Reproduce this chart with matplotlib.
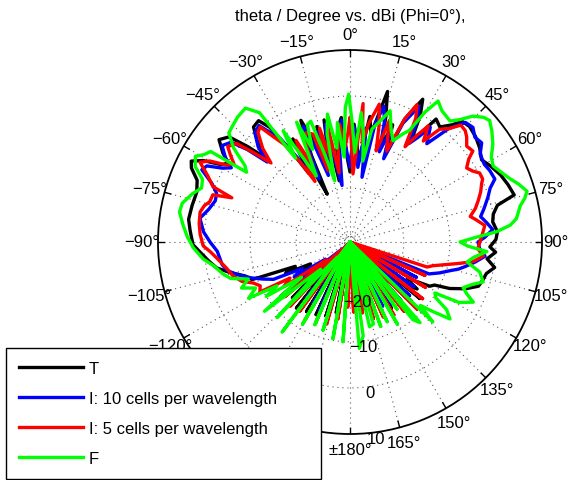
import numpy as np
import matplotlib
matplotlib.use('Agg')
import matplotlib.pyplot as plt
from matplotlib.lines import Line2D

plt.rcParams['font.family'] = ['Liberation Sans', 'DejaVu Sans']

# ---------------- data (theta in degrees, gain in dBi) ----------------
R_MIN = -31.7
R_MAX = 10.0
ring_values = [-30, -20, -10, 0]
ring_label_values = [-20, -10, 0, 10]
ring_labels = ['\u221220', '\u221210', '0', '10']
angle_ticks = list(range(-165, 181, 15))

series_names = ['T', 'I: 10 cells per wavelength', 'I: 5 cells per wavelength', 'F']
series_colors = ['#000000', '#0000ff', '#ff0000', '#00ff00']

theta_T = [-180, -176, -173, -169, -166, -162, -159, -155, -152, -148, -145, -141, -138, -134, -131, -128,
           -125, -121, -119, -116, -114, -111, -108, -104, -101, -98, -95, -91, -86, -82, -77, -72,
           -68, -65, -63, -61, -59, -57, -55, -52, -49, -47, -45, -43, -40, -37, -35, -33,
           -31, -29, -27, -25.5, -24, -22, -20, -18, -16, -14, -12, -10, -8, -6, -4, -2,
           0, 2, 4, 6, 9, 11, 14, 16, 18, 20, 22, 24, 27, 29, 31, 33,
           35, 38, 41, 43, 46, 50, 54, 58, 62, 66, 70, 74, 76, 79, 82, 86,
           89, 92, 94, 97, 100, 103, 106, 109, 112, 115, 117, 119, 121, 123, 125, 127,
           129, 131, 134, 137, 141, 144, 148, 151, 155, 158, 162, 165, 169, 172, 176, 180]
gain_T = [-31.7, -18.2, -31.7, -16.1, -31.7, -14.8, -31.7, -14.3, -31.7, -13.9, -31.7, -13.2, -27.4, -14.3, -25.2, -12.6,
          -23.0, -18.7, -21.9, -16.1, -18.7, -8.9, -7.8, -4.6, -2.2, -0.9, 0.4, 2.4, 3.1, 3.7, 3.5, 3.3,
          4.1, 6.3, 7.0, 4.8, 0.9, -0.2, 2.0, 4.4, 3.1, -1.3, -6.1, -2.4, 0.9, 1.3, -1.3, -7.8,
          -14.3, -6.1, -15.4, -20.2, -11.1, -3.2, -7.8, -14.3, -5.6, -12.2, -4.6, -18.2, -11.1, -6.7, -4.6, -13.2,
          -16.5, -6.1, -10.0, -14.3, -4.1, -7.8, 2.0, -3.5, -10.0, -4.6, -11.1, -2.4, 3.1, -0.2, -5.6, -3.5,
          0.9, 0.0, 2.0, 4.1, 4.4, 3.9, 3.1, 2.0, 3.1, 4.1, 4.8, 5.4, 1.3, 0.0, -0.4, 0.4,
          0.0, -1.3, 0.0, -1.7, 0.2, -1.3, -1.7, -2.2, -4.6, -7.8, -11.1, -11.9, -15.4, -16.9, -13.9, -16.5,
          -12.2, -31.7, -13.2, -31.7, -14.3, -31.7, -14.8, -31.7, -15.4, -31.7, -16.5, -31.7, -16.9, -31.7, -17.6, -31.7]

theta_I10 = [-180, -177, -174, -170, -167, -163, -160, -156, -153, -149, -146, -142, -139, -135, -132, -128,
             -125, -122, -119, -116, -113, -110, -106, -103, -100, -97, -94, -90, -86, -81, -77, -73,
             -70, -67, -64, -62, -60, -58, -56, -53, -50, -48, -46, -44, -41, -38, -36, -34,
             -32, -30, -28, -26, -24, -22, -20, -18, -16, -14, -12, -10, -8, -6, -4, -2,
             0, 2, 4, 6, 8, 10.5, 12, 14, 16, 18, 20, 22, 24, 27, 29, 31,
             33, 35, 38, 41, 44, 47, 50, 53, 56, 60, 63, 66.5, 69, 72, 76, 79,
             82, 85, 88, 90, 93, 96, 99, 102, 104, 106, 109, 112, 114, 118, 121, 125,
             128, 132, 135, 139, 142, 146, 149, 153, 156, 160, 163, 167, 170, 174, 177, 180]
gain_I10 = [-31.7, -18.7, -31.7, -17.6, -31.7, -16.5, -31.7, -15.4, -31.7, -16.1, -31.7, -16.5, -31.7, -16.9, -29.5, -18.2,
            -25.2, -17.4, -19.8, -13.2, -11.1, -8.9, -6.1, -4.3, -3.5, -3.2, -2.8, -1.3, 0.2, 1.3, -0.2, -1.1,
            -0.9, 0.9, 4.1, 3.5, 0.4, -1.3, 0.9, 3.1, 2.0, -1.7, -6.7, -3.0, -0.2, 0.4, -2.4, -4.6,
            -10.0, -15.4, -7.4, -16.5, -10.0, -4.6, -10.0, -16.5, -6.7, -14.3, -5.6, -15.4, -19.3, -7.8, -5.2, -12.2,
            -15.4, -6.7, -11.1, -15.4, -6.7, -17.4, -5.6, -1.3, -4.6, -11.1, -5.6, -12.2, -3.5, 1.3, -1.7, -6.7,
            -4.6, -1.3, -4.6, 0.9, 4.4, 4.8, 3.7, 4.1, 2.4, 2.0, 2.4, 2.6, 0.9, -0.2, -1.7, -2.8,
            -1.7, -0.6, -2.4, -3.9, -3.5, -2.2, -4.1, -6.1, -7.4, -9.1, -11.1, -13.2, -31.7, -15.4, -31.7, -14.8,
            -31.7, -14.3, -31.7, -14.8, -31.7, -15.4, -31.7, -16.1, -31.7, -16.5, -31.7, -16.9, -31.7, -18.2, -31.7, -31.7]

theta_I5 = [-180, -178, -175, -171, -168, -164, -161, -157, -154, -150, -147, -144, -141, -137, -134, -130,
            -127, -124, -121, -119, -116, -113, -110, -106, -102, -97, -94, -91.5, -87, -83, -78.7, -76,
            -74, -71, -69.5, -68, -65, -62, -60, -58, -56, -54, -52, -49, -47, -45, -43, -40,
            -38, -36, -34, -32, -30, -28, -26, -24, -22, -19, -17, -15, -13, -11, -9, -7,
            -5, -3, -1, 0, 2.5, 5.4, 7, 9, 12, 14, 16, 18, 20, 22, 24, 26,
            28, 30, 32, 34, 36, 38.5, 41, 43.5, 46, 48, 50.6, 53.5, 55, 57.6, 60, 62,
            64.6, 66, 69, 72, 75, 78, 80, 83, 86, 90, 93, 96, 99, 101, 103, 106,
            108, 110, 114, 117, 121, 124, 128, 131, 135, 138, 142, 145, 149, 152, 156, 159,
            163, 166, 170, 173, 177, 180]
gain_I5 = [-31.7, -17.6, -31.7, -14.8, -31.7, -13.2, -31.7, -12.6, -31.7, -12.2, -31.7, -13.2, -31.7, -12.6, -29.5, -13.2,
           -25.2, -14.3, -16.5, -9.3, -10.0, -8.9, -6.7, -5.2, -4.3, -2.6, -1.3, 0.2, 0.9, 1.3, 1.5, 0.9,
           0.0, -0.2, -4.3, 0.4, 2.4, 5.2, 3.5, -0.2, -1.3, 0.4, 2.0, 0.9, -3.5, -7.4, -3.9, -0.6,
           0.0, -3.5, -6.1, -11.1, -16.5, -6.7, -13.2, -7.8, -6.1, -6.9, -15.4, -6.1, -13.2, -5.6, -16.5, -10.0,
           -6.1, -11.1, -7.8, -4.6, -16.9, -1.5, -10.0, -5.6, -1.1, -5.6, -11.1, -3.9, -7.8, -10.4, -2.4, 1.5,
           -1.3, -7.8, -4.6, -1.3, -4.6, -0.4, 0.9, 3.3, 3.1, 2.4, 1.1, 1.5, -0.2, -1.7, -0.9, 0.2,
           0.2, -0.4, -1.3, -2.4, -3.5, -5.0, -3.9, -2.2, -2.8, -3.5, -3.9, -2.6, -4.6, -7.4, -10.0, -13.0,
           -14.1, -31.7, -13.9, -31.7, -12.6, -31.7, -11.7, -31.7, -11.1, -31.7, -12.6, -31.7, -13.2, -31.7, -13.9, -31.7,
           -14.3, -31.7, -16.1, -31.7, -16.5, -31.7]

theta_F = [-180, -176, -174, -170, -167, -163, -160, -157, -154, -150, -147, -143, -140, -136, -133, -129,
           -126, -123, -121, -119, -116, -113, -110, -107, -104, -100, -96.6, -92, -88, -84, -80, -77,
           -73, -70, -67, -64, -61, -59, -57, -56, -54, -51, -48, -45.7, -42, -38, -35, -33,
           -31, -29, -27, -24, -22, -20, -18, -16, -14, -12, -10, -8, -6, -4, -2, -0.5,
           1, 3, 5, 7, 9, 11, 14, 17, 20, 23, 26, 28, 30, 32, 35, 39.6,
           42, 44.3, 47, 49, 52, 55.6, 59, 62, 65, 68.5, 71, 74, 76, 78, 82, 84,
           86, 88, 90, 92, 94, 97, 99.7, 103, 106.7, 109, 112, 114, 116, 119, 121, 123,
           125, 127.6, 130, 132, 134, 136, 139, 141, 143, 145, 147, 150, 152, 155, 157, 160,
           162, 164, 167, 169, 172, 175, 177, 180]
gain_F = [-31.7, -10.0, -31.7, -10.4, -31.7, -11.7, -31.7, -12.2, -31.7, -11.1, -31.7, -7.2, -27.4, -8.9, -23.0, -7.8,
          -18.7, -10.0, -13.2, -6.5, -8.9, -6.1, -8.2, -4.6, -3.2, -1.7, 0.4, 2.4, 3.7, 4.8, 5.9, 5.7,
          4.1, 2.6, 3.1, 5.7, 6.7, 5.2, 4.4, -4.6, -3.5, 0.9, 3.7, 4.1, 4.8, 5.2, 2.6, -10.0,
          -3.5, -11.1, -15.6, -3.2, -10.0, -4.6, -4.1, -12.2, -18.0, -7.8, -3.5, -11.1, -5.6, -13.2, -2.4, 0.4,
          -5.6, -12.2, -3.5, -7.8, -13.9, -6.7, -4.6, -1.9, -5.6, -7.8, -5.6, -4.3, 0.9, 4.4, 3.1, 2.4,
          4.1, 6.5, 8.0, 8.5, 7.4, 5.9, 4.1, 3.5, 4.4, 5.7, 7.0, 8.3, 7.4, 6.1, 4.8, 3.3,
          0.2, -4.6, -7.8, -6.1, -1.9, -4.6, -5.9, -2.8, -1.5, -3.5, -5.2, -3.9, -1.9, -4.6, -10.2, -9.5,
          -6.1, -4.3, -8.2, -11.1, -6.7, -31.7, -8.5, -10.0, -31.7, -13.9, -31.7, -11.1, -31.7, -12.6, -31.7, -12.2,
          -31.7, -13.2, -12.8, -31.7, -11.1, -8.5, -31.7, -31.7]

series_theta = [theta_T, theta_I10, theta_I5, theta_F]
series_gain = [gain_T, gain_I10, gain_I5, gain_F]

# ---------------- figure ----------------
W, H = 569, 481
fig = plt.figure(figsize=(W / 100, H / 100), dpi=100)
cx, cy, rad = 350, 243, 192
ax = fig.add_axes([(cx - rad) / W, (H - cy - rad) / H, 2 * rad / W, 2 * rad / H], projection='polar')
ax.set_theta_zero_location('N')
ax.set_theta_direction(-1)
ax.set_ylim(R_MIN, R_MAX)
ax.set_xticks([])
ax.set_yticks([])
ax.grid(False)
ax.spines['polar'].set_linewidth(1.3)
ax.spines['polar'].set_color('black')

grid_kw = dict(linestyle=(0, (1, 3.5)), color='0.35', lw=0.8, zorder=1)
full = np.linspace(0, 2 * np.pi, 361)
for rv in ring_values:
    ax.plot(full, np.full_like(full, rv), **grid_kw)
for a in range(0, 360, 15):
    t = np.deg2rad(a)
    ax.plot([t, t], [R_MIN, R_MAX], **grid_kw)
    ax.plot([t, t], [R_MAX - 1.4, R_MAX], color='black', lw=1.0, zorder=2)

for th, g, c in zip(series_theta, series_gain, series_colors):
    ax.plot(np.deg2rad(th), g, color=c, lw=2.4, zorder=3, solid_joinstyle='round')

# angle labels
RL = 1.083
for a in angle_ticks:
    if a == 180:
        lab = '\u00b1180\u00b0'
    else:
        lab = ('\u2212' if a < 0 else '') + f'{abs(a)}\u00b0'
    t = np.deg2rad(a)
    rl = RL - 0.01 if a == 90 else RL
    ax.text(0.5 + 0.5 * rl * np.sin(t), 0.5 + 0.5 * rl * np.cos(t), lab,
            transform=ax.transAxes, ha='center', va='center', fontsize=12)

# radial labels
for v, lab in zip(ring_label_values, ring_labels):
    ax.text(np.deg2rad(172.5), v + 1.3, lab, ha='center', va='center', fontsize=12, zorder=4)

fig.text(cx / W, 1 - 16 / H, 'theta / Degree vs. dBi (Phi=0\u00b0),', ha='center', va='center', fontsize=12)

handles = [Line2D([], [], color=c, lw=2.4) for c in series_colors]
leg = fig.legend(handles, series_names, loc='upper left',
                 bbox_to_anchor=(6 / W, 0, 315 / W, 1 - 349 / H), mode='expand',
                 borderaxespad=0, frameon=True, fancybox=False, edgecolor='black', framealpha=1,
                 fontsize=12, handlelength=3.84, handletextpad=0.36, labelspacing=0.9, borderpad=0.78)
leg.get_frame().set_linewidth(1.0)

fig.savefig('out.png', dpi=100)
